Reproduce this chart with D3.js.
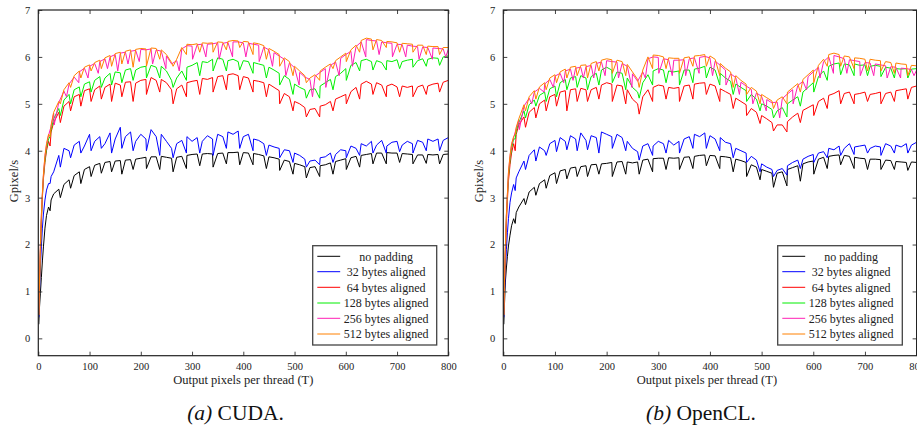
<!DOCTYPE html>
<html><head><meta charset="utf-8">
<script src="https://cdn.jsdelivr.net/npm/d3@7"></script>
<style>body{margin:0;background:#fff}</style>
</head><body><svg id="c" width="917" height="426"></svg>
<script>
// ---- shared x samples ----
const xs = [1,2,4,6,8,10,13,16,20,25,30,40,50,60,70,80,90,100,110,120,130,140,150,160,170,180,190,200,210,220,230,240,250,260,270,280,290,300,310,320,330,340,350,360,370,380,390,400,410,420,430,440,450,460,470,480,490,500,510,520,530,540,550,560,570,580,590,600,610,620,630,640,650,660,670,680,690,700,710,720,730,740,750,760,770,780,790,800];
const dipA = [23,43,63,83,103,123,143,163,185,211,237,263,289,315,341,367,393,419,445,471,497,523,549,575,601,627,653,679,705,731,757,783];
const dipB = [31,55,79,97,117,135,155,175,197,223,249,275,301,327,353,379,405,431,457,483,509,535,561,587,613,639,665,691,717,743,769,795];

const seriesNames = ["no padding","32 bytes aligned","64 bytes aligned","128 bytes aligned","256 bytes aligned","512 bytes aligned"];
const seriesColors = ["#000000","#0000ff","#ff0000","#00ee00","#ff1fb4","#ff8000"];
const xTicks = [0,100,200,300,400,500,600,700,800];
const yTicks = [0,1,2,3,4,5,6,7];

// ---- CUDA ----
const cudaNone = [0.3,0.6,0.95,1.3,1.65,1.95,2.35,2.62,2.8,2.95,3.08,3.18,3.28,3.38,3.47,3.55,3.6,3.66,3.69,3.73,3.75,3.77,3.78,3.79,3.8,3.81,3.82,3.84,3.86,3.87,3.87,3.88,3.86,3.84,3.86,3.88,3.9,3.92,3.93,3.93,3.94,3.93,3.94,3.95,3.96,3.96,3.97,3.96,3.95,3.94,3.92,3.89,3.87,3.85,3.82,3.8,3.77,3.73,3.7,3.66,3.64,3.66,3.68,3.7,3.74,3.77,3.8,3.83,3.85,3.88,3.9,3.92,3.94,3.95,3.95,3.96,3.95,3.95,3.94,3.93,3.92,3.91,3.91,3.92,3.91,3.92,3.92,3.93];
const cudaNoneDips = [2.72,3.0,3.2,3.3,3.45,3.52,3.55,3.5,3.6,3.62,3.6,3.55,3.62,3.68,3.65,3.72,3.7,3.7,3.62,3.58,3.5,3.42,3.45,3.5,3.6,3.65,3.72,3.72,3.75,3.72,3.73,3.72];
const cuda32 = [0.45,0.9,1.5,1.95,2.35,2.65,2.95,3.16,3.3,3.45,3.55,3.9,4.05,4.0,4.12,4.2,4.1,4.35,4.2,4.3,4.15,4.38,4.25,4.5,4.3,4.4,4.2,4.35,4.25,4.45,4.3,4.35,4.2,4.05,4.15,4.22,4.3,4.2,4.28,4.2,4.32,4.25,4.35,4.3,4.4,4.35,4.42,4.3,4.35,4.25,4.22,4.15,4.12,4.08,4.05,4.02,4.0,3.95,3.9,3.82,3.78,3.8,3.85,3.87,3.95,3.92,4.02,4.0,4.1,4.05,4.15,4.1,4.2,4.12,4.22,4.1,4.18,4.2,4.12,4.2,4.15,4.22,4.18,4.25,4.2,4.25,4.22,4.28];
const cuda32Dips = [3.3,3.65,3.85,3.95,4.0,4.05,3.95,4.05,4.0,4.0,3.9,3.85,3.95,3.95,3.9,4.05,4.05,4.0,3.9,3.85,3.75,3.65,3.7,3.75,3.85,3.9,3.95,3.95,3.98,3.95,4.0,4.0];
const cuda64 = [0.5,1.0,1.8,2.5,3.0,3.4,3.75,4.0,4.2,4.4,4.6,4.82,4.95,5.05,5.15,5.2,5.28,5.32,5.3,5.38,5.35,5.42,5.44,5.4,5.46,5.47,5.44,5.5,5.52,5.56,5.5,5.52,5.45,5.3,5.32,5.4,5.45,5.48,5.5,5.54,5.52,5.56,5.58,5.6,5.62,5.64,5.6,5.58,5.55,5.5,5.48,5.45,5.42,5.35,5.28,5.22,5.15,5.05,5.0,4.92,4.88,4.9,4.95,4.98,5.05,5.1,5.15,5.2,5.26,5.35,5.42,5.48,5.42,5.45,5.4,5.38,5.42,5.36,5.38,5.35,5.38,5.36,5.4,5.38,5.42,5.44,5.46,5.5];
const cuda64Dips = [4.1,4.6,4.85,4.95,5.05,5.1,5.05,5.15,5.05,5.2,5.25,5.0,5.15,5.2,5.25,5.3,5.3,5.25,5.15,5.0,4.85,4.72,4.72,4.85,5.0,5.1,5.2,5.15,5.15,5.15,5.2,5.25];
const cuda128 = [0.5,1.0,1.85,2.55,3.05,3.45,3.8,4.05,4.25,4.45,4.68,4.9,5.08,5.2,5.3,5.36,5.42,5.47,5.5,5.58,5.55,5.65,5.68,5.66,5.72,5.75,5.72,5.78,5.8,5.82,5.78,5.8,5.7,5.5,5.55,5.7,5.78,5.82,5.88,5.9,5.88,5.95,5.98,5.95,5.92,5.95,5.9,5.92,5.9,5.88,5.85,5.82,5.78,5.72,5.65,5.6,5.52,5.42,5.35,5.3,5.3,5.32,5.38,5.45,5.52,5.58,5.65,5.75,5.82,5.88,5.92,5.95,5.9,5.92,5.88,5.92,5.9,5.94,5.9,5.93,5.95,5.92,5.96,5.95,5.98,5.97,6.0,6.02];
const cuda128Dips = [4.3,4.75,5.0,5.15,5.25,5.35,5.4,5.45,5.5,5.55,5.55,5.35,5.5,5.6,5.7,5.7,5.72,5.65,5.55,5.4,5.2,5.12,5.12,5.3,5.5,5.7,5.72,5.72,5.75,5.78,5.8,5.82];
const cuda256 = [0.5,1.05,1.93,2.62,3.08,3.48,3.88,4.12,4.33,4.52,4.8,5.03,5.27,5.42,5.57,5.68,5.76,5.8,5.86,5.9,5.96,6.0,6.05,6.08,6.1,6.12,6.14,6.16,6.15,6.17,6.15,6.12,6.02,5.85,5.92,6.17,6.24,6.23,6.26,6.27,6.27,6.28,6.3,6.29,6.31,6.32,6.32,6.3,6.29,6.27,6.25,6.21,6.15,6.09,6.02,5.95,5.87,5.77,5.67,5.57,5.52,5.59,5.67,5.75,5.82,5.89,5.97,6.05,6.12,6.22,6.32,6.37,6.35,6.34,6.32,6.3,6.29,6.27,6.26,6.25,6.23,6.22,6.21,6.2,6.19,6.18,6.17,6.16];
const cuda256Dips = [4.55,5.15,5.45,5.55,5.65,5.75,5.7,5.85,5.9,5.85,5.75,5.7,5.95,6.0,5.95,6.0,6.0,5.9,5.8,5.6,5.4,5.15,5.35,5.6,5.8,6.0,6.05,6.0,6.0,5.95,5.95,6.0];
const cuda512 = [0.5,1.05,1.95,2.65,3.1,3.5,3.9,4.15,4.35,4.55,4.82,5.05,5.3,5.45,5.6,5.7,5.78,5.83,5.88,5.93,5.98,6.03,6.07,6.1,6.12,6.15,6.16,6.18,6.17,6.19,6.18,6.15,6.05,5.88,5.95,6.2,6.27,6.26,6.28,6.3,6.29,6.3,6.32,6.31,6.33,6.35,6.34,6.33,6.32,6.3,6.28,6.24,6.18,6.12,6.05,5.98,5.9,5.8,5.7,5.6,5.55,5.62,5.7,5.78,5.85,5.92,6.0,6.08,6.15,6.25,6.35,6.4,6.38,6.37,6.35,6.33,6.32,6.3,6.29,6.28,6.27,6.25,6.25,6.23,6.22,6.22,6.2,6.2];
const cuda512Dips = [4.3,5.0,5.35,5.55,5.7,5.75,5.8,5.85,5.78,5.8,5.95,5.8,6.05,6.1,6.1,6.15,6.2,6.05,5.95,5.8,5.6,5.45,5.5,5.75,5.9,6.1,6.15,6.2,6.1,6.1,6.05,6.05];

// ---- OpenCL ----
const oclNone = [0.3,0.65,1.2,1.5,1.75,1.97,2.2,2.4,2.55,2.68,2.8,2.98,3.12,3.22,3.3,3.38,3.47,3.53,3.57,3.6,3.63,3.65,3.66,3.68,3.7,3.71,3.72,3.73,3.75,3.76,3.77,3.76,3.74,3.76,3.8,3.82,3.83,3.84,3.84,3.85,3.84,3.85,3.86,3.87,3.88,3.9,3.91,3.9,3.89,3.88,3.87,3.85,3.82,3.79,3.75,3.7,3.65,3.6,3.56,3.52,3.52,3.55,3.6,3.64,3.68,3.72,3.76,3.78,3.82,3.86,3.88,3.9,3.91,3.9,3.88,3.86,3.84,3.83,3.82,3.82,3.81,3.8,3.79,3.77,3.76,3.75,3.76,3.75];
const oclNoneDips = [2.45,2.85,3.05,3.2,3.3,3.4,3.45,3.45,3.5,3.45,3.5,3.5,3.55,3.6,3.6,3.62,3.68,3.62,3.55,3.45,3.38,3.22,3.25,3.35,3.5,3.62,3.7,3.62,3.6,3.6,3.6,3.58];
const ocl32 = [0.45,0.9,1.45,1.9,2.25,2.55,2.9,3.1,3.28,3.42,3.55,3.78,3.9,4.02,4.08,4.0,4.15,4.22,4.28,4.2,4.32,4.25,4.38,4.22,4.32,4.28,4.4,4.35,4.3,4.35,4.28,4.2,4.05,3.98,4.1,4.15,4.1,4.2,4.15,4.22,4.12,4.2,4.25,4.3,4.35,4.3,4.38,4.32,4.25,4.28,4.18,4.15,4.05,4.0,3.95,3.88,3.8,3.72,3.65,3.6,3.58,3.62,3.68,3.75,3.8,3.82,3.88,3.92,3.95,3.98,4.05,4.02,4.1,4.05,4.15,4.08,4.1,4.12,4.05,4.1,4.08,4.15,4.1,4.12,4.08,4.15,4.12,4.18];
const ocl32Dips = [3.15,3.6,3.78,3.9,3.98,4.02,4.0,4.02,3.95,4.05,4.0,3.8,3.9,3.95,3.95,4.05,4.05,4.0,3.85,3.75,3.55,3.45,3.48,3.62,3.75,3.85,3.9,3.92,3.95,3.9,3.95,3.95];
const ocl64 = [0.5,1.0,1.8,2.45,2.95,3.35,3.7,3.95,4.15,4.35,4.55,4.72,4.82,4.92,5.0,5.08,5.15,5.2,5.25,5.28,5.3,5.32,5.33,5.3,5.3,5.35,5.4,5.45,5.42,5.4,5.38,5.3,5.1,5.0,5.15,5.3,5.35,5.4,5.38,5.35,5.33,5.35,5.38,5.4,5.42,5.44,5.45,5.42,5.38,5.32,5.26,5.2,5.12,5.05,4.98,4.9,4.82,4.75,4.68,4.6,4.55,4.55,4.62,4.72,4.8,4.86,4.92,4.98,5.05,5.12,5.18,5.22,5.28,5.22,5.25,5.2,5.22,5.25,5.2,5.22,5.25,5.22,5.25,5.28,5.3,5.32,5.35,5.38];
const ocl64Dips = [4.0,4.5,4.7,4.85,4.95,4.85,5.05,5.05,5.1,5.05,5.0,4.78,5.05,5.1,5.05,5.1,5.2,5.05,4.9,4.75,4.58,4.42,4.4,4.6,4.75,4.9,5.0,5.0,5.05,5.0,5.05,5.1];
const ocl128 = [0.5,1.05,1.9,2.6,3.05,3.45,3.8,4.05,4.25,4.42,4.6,4.85,4.98,5.08,5.18,5.25,5.32,5.38,5.45,5.52,5.55,5.58,5.6,5.55,5.58,5.65,5.72,5.78,5.72,5.68,5.65,5.55,5.35,5.25,5.45,5.62,5.7,5.75,5.72,5.7,5.68,5.7,5.72,5.72,5.74,5.76,5.8,5.78,5.72,5.65,5.55,5.48,5.42,5.35,5.28,5.2,5.1,5.0,4.95,4.88,4.85,4.92,5.0,5.08,5.15,5.25,5.35,5.45,5.58,5.7,5.8,5.85,5.87,5.85,5.83,5.85,5.82,5.83,5.8,5.82,5.8,5.78,5.76,5.75,5.74,5.75,5.74,5.75];
const ocl128Dips = [4.25,4.7,4.95,5.05,5.15,5.3,5.35,5.3,5.4,5.45,5.3,5.12,5.4,5.45,5.4,5.45,5.55,5.4,5.2,5.05,4.85,4.7,4.72,4.95,5.25,5.5,5.62,5.6,5.6,5.58,5.55,5.55];
const ocl256 = [0.5,1.08,1.93,2.62,3.08,3.52,3.88,4.12,4.28,4.47,4.65,4.95,5.12,5.25,5.33,5.42,5.52,5.59,5.65,5.7,5.74,5.76,5.78,5.79,5.82,5.86,5.89,5.92,5.9,5.89,5.86,5.8,5.64,5.48,5.68,5.96,6.0,5.99,5.96,5.94,5.93,5.93,5.94,5.96,5.98,5.99,6.01,5.98,5.91,5.82,5.72,5.64,5.56,5.46,5.38,5.31,5.23,5.16,5.09,5.02,5.04,5.11,5.21,5.3,5.39,5.48,5.58,5.68,5.78,5.9,6.0,6.03,6.0,5.96,5.94,5.92,5.9,5.88,5.87,5.85,5.83,5.81,5.79,5.78,5.76,5.75,5.73,5.72];
const ocl256Dips = [4.45,5.0,5.25,5.35,5.45,5.5,5.55,5.55,5.6,5.55,5.35,5.55,5.65,5.6,5.6,5.65,5.6,5.4,5.2,5.0,4.85,4.7,5.0,5.3,5.55,5.65,5.65,5.6,5.6,5.55,5.55,5.6];
const ocl512 = [0.5,1.1,1.95,2.65,3.1,3.55,3.9,4.15,4.3,4.5,4.68,4.98,5.15,5.28,5.36,5.45,5.55,5.62,5.68,5.74,5.78,5.8,5.82,5.83,5.86,5.9,5.93,5.96,5.94,5.93,5.9,5.84,5.68,5.52,5.72,6.0,6.04,6.03,6.0,5.98,5.97,5.97,5.98,6.0,6.02,6.03,6.05,6.02,5.95,5.86,5.76,5.68,5.6,5.5,5.42,5.35,5.27,5.2,5.13,5.06,5.08,5.15,5.25,5.34,5.43,5.52,5.62,5.72,5.82,5.95,6.05,6.08,6.05,6.02,6.0,5.98,5.97,5.95,5.95,5.93,5.92,5.9,5.88,5.87,5.85,5.84,5.82,5.81];
const ocl512Dips = [4.35,4.85,5.1,5.3,5.45,5.55,5.6,5.55,5.7,5.65,5.6,5.35,5.75,5.75,5.65,5.8,5.8,5.6,5.35,5.2,5.0,4.9,5.0,5.25,5.45,5.8,5.8,5.75,5.7,5.7,5.65,5.6];

const panels = [
  {x0:38.3, x1:448.3, caption:"CUDA.", tag:"(a)", legX:312.7, legW:124,
   series:[[cudaNone,cudaNoneDips,dipA],[cuda32,cuda32Dips,dipA],[cuda64,cuda64Dips,dipA],[cuda128,cuda128Dips,dipA],[cuda256,cuda256Dips,dipB],[cuda512,cuda512Dips,dipA]]},
  {x0:503.3, x1:916.6, caption:"OpenCL.", tag:"(b)", legX:777.7, legW:124.6,
   series:[[oclNone,oclNoneDips,dipA],[ocl32,ocl32Dips,dipA],[ocl64,ocl64Dips,dipA],[ocl128,ocl128Dips,dipA],[ocl256,ocl256Dips,dipB],[ocl512,ocl512Dips,dipA]]}
];

const FONT = "'Liberation Serif', 'Times New Roman', Times, 'DejaVu Serif', serif";
const svg = d3.select("#c");
const yTop = 10, yBot = 355.7;

panels.forEach(p => {
  const x = d3.scaleLinear().domain([0,800]).range([p.x0,p.x1]);
  const y = d3.scaleLinear().domain([-0.37,7]).range([yBot,yTop]);
  const g = svg.append("g");
  const clipId = "clip"+p.tag.replace(/\W/g,"");
  g.append("clipPath").attr("id",clipId).append("rect")
    .attr("x",p.x0).attr("y",yTop-2).attr("width",p.x1-p.x0).attr("height",yBot-yTop+2);
  const line = d3.line().x(d=>x(d[0])).y(d=>y(d[1]));
  const lg = g.append("g").attr("clip-path",`url(#${clipId})`);
  p.series.forEach((s,i) => {
    const pts = xs.map((xv,k)=>[xv,s[0][k]]).concat(s[2].map((xv,k)=>[xv,s[1][k]]));
    pts.sort((a,b)=>a[0]-b[0]);
    lg.append("path").attr("d",line(pts)).attr("fill","none")
      .attr("stroke",seriesColors[i]).attr("stroke-width",1).attr("stroke-linejoin","round");
  });
  const fmt = d3.format("d");
  const axB = g.append("g").attr("transform",`translate(0,${yBot})`)
    .call(d3.axisBottom(x).tickValues(xTicks).tickSizeInner(-4).tickSizeOuter(0).tickPadding(7).tickFormat(fmt));
  const axT = g.append("g").attr("transform",`translate(0,${yTop})`)
    .call(d3.axisTop(x).tickValues(xTicks).tickSizeInner(-4).tickSizeOuter(0).tickFormat(""));
  const axL = g.append("g").attr("transform",`translate(${p.x0},0)`)
    .call(d3.axisLeft(y).tickValues(yTicks).tickSizeInner(-4).tickSizeOuter(0).tickPadding(8).tickFormat(fmt));
  const axR = g.append("g").attr("transform",`translate(${p.x1},0)`)
    .call(d3.axisRight(y).tickValues(yTicks).tickSizeInner(-4).tickSizeOuter(0).tickFormat(""));
  [axB,axT,axL,axR].forEach(a=>{
    a.attr("font-family",null).style("font-family",FONT);
    a.select(".domain").remove();
    a.selectAll(".tick line").attr("stroke","#444");
    a.selectAll("text").style("font-family",FONT).attr("font-size",10.5).attr("fill","#222");
  });
  g.append("rect").attr("x",p.x0).attr("y",yTop).attr("width",p.x1-p.x0).attr("height",yBot-yTop)
    .attr("fill","none").attr("stroke","#222").attr("stroke-width",1.2);
  g.append("text").style("font-family",FONT).attr("x",(p.x0+p.x1)/2 - (p.tag==="(b)"?3:0)).attr("y",384).attr("text-anchor","middle")
    .attr("font-size",12.5).attr("fill","#222").text("Output pixels per thread (T)");
  const yl = p.tag==="(a)"?14:478.5;
  g.append("text").style("font-family",FONT).attr("transform",`translate(${yl},181) rotate(-90)`).attr("text-anchor","middle")
    .attr("dy","0.35em").attr("font-size",12.5).attr("fill","#222").text("Gpixel/s");
  const cx = p.tag==="(a)"?235.5:701;
  const cap = g.append("text").style("font-family",FONT).attr("x",cx).attr("y",420).attr("text-anchor","middle").attr("font-size",21.5).attr("fill","#111");
  cap.append("tspan").attr("font-style","italic").text(p.tag+" ");
  cap.append("tspan").text(p.caption);
  const lgY = 245.7, lgH = 99.3;
  const leg = g.append("g");
  leg.append("rect").attr("x",p.legX).attr("y",lgY).attr("width",p.legW).attr("height",lgH)
    .attr("fill","#fff").attr("stroke","#444").attr("stroke-width",1.3);
  const rowY = [256.3,271.7,287.3,303,318.3,334];
  seriesNames.forEach((nm,i)=>{
    leg.append("line").attr("x1",p.legX+4.6).attr("x2",p.legX+27.5).attr("y1",rowY[i]).attr("y2",rowY[i])
      .attr("stroke",seriesColors[i]).attr("stroke-width",1);
    leg.append("text").style("font-family",FONT).attr("x",p.legX+73.5).attr("y",rowY[i]).attr("dy","0.35em").attr("text-anchor","middle")
      .attr("font-size",12).attr("fill","#222").text(nm);
  });
});
</script></body></html>
